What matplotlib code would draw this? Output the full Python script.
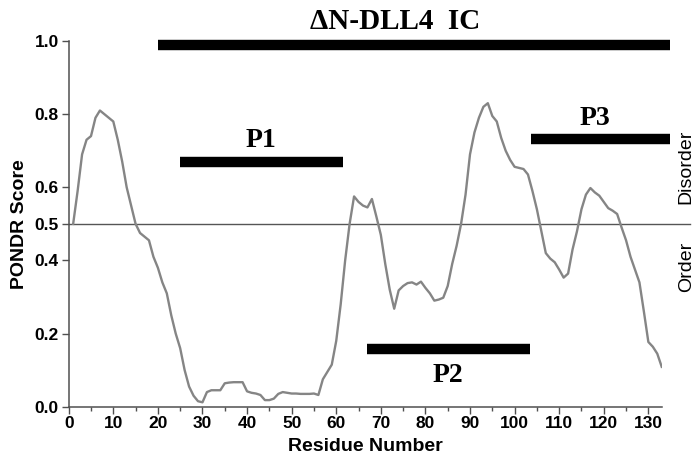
import numpy as np
import matplotlib
matplotlib.use("Agg")
import matplotlib.pyplot as plt

# PONDR disorder score per residue (1..133)
residues = np.arange(1, 134)
pondr = [
    0.50, 0.59, 0.69, 0.73, 0.74, 0.79, 0.81, 0.80, 0.79, 0.78,
    0.73, 0.67, 0.60, 0.55, 0.50, 0.475, 0.465, 0.455, 0.41, 0.38,
    0.34, 0.31, 0.25, 0.20, 0.16, 0.10, 0.055, 0.03, 0.015, 0.012,
    0.040, 0.045, 0.045, 0.045, 0.064, 0.066, 0.067, 0.067, 0.067, 0.042,
    0.038, 0.036, 0.032, 0.018, 0.018, 0.022, 0.035, 0.040, 0.038, 0.036,
    0.036, 0.035, 0.035, 0.035, 0.036, 0.032, 0.075, 0.095, 0.115, 0.18,
    0.28, 0.40, 0.50, 0.575, 0.56, 0.55, 0.545, 0.568, 0.52, 0.47,
    0.39, 0.32, 0.268, 0.318, 0.330, 0.338, 0.340, 0.334, 0.342, 0.325,
    0.31, 0.29, 0.293, 0.298, 0.33, 0.39, 0.44, 0.50, 0.58, 0.69,
    0.75, 0.79, 0.82, 0.83, 0.795, 0.78, 0.735, 0.70, 0.675, 0.656,
    0.653, 0.65, 0.635, 0.59, 0.54, 0.48, 0.42, 0.405, 0.395, 0.375,
    0.353, 0.364, 0.43, 0.48, 0.54, 0.58, 0.598, 0.586, 0.577, 0.56,
    0.543, 0.536, 0.527, 0.49, 0.455, 0.41, 0.375, 0.34, 0.26, 0.177,
    0.164, 0.145, 0.109,
]

# construct spans: name, start, end, bar height, label position
constructs = ["\u0394N-DLL4  IC", "P1", "P2", "P3"]
span_start = [20, 25, 67, 103.7]
span_end = [134.8, 61.6, 103.4, 134.8]
span_level = [0.99, 0.67, 0.157, 0.733]
label_x = [73.3, 43.1, 85.1, 118.0]
label_y = [1.053, 0.728, 0.085, 0.788]
label_size = [21, 20, 20, 20]

yticks = [0.0, 0.2, 0.4, 0.5, 0.6, 0.8, 1.0]

plt.rcParams['font.family'] = ['Liberation Sans', 'DejaVu Sans']

fig = plt.figure(figsize=(6.94, 4.61), dpi=100)
ax = fig.add_axes([0.099, 0.1178, 0.8545, 0.7932])

ax.plot(residues, pondr, color="#858585", lw=1.7, zorder=3)
ax.plot([0, 139.3], [0.5, 0.5], color="#555555", lw=1.0, clip_on=False, zorder=2)

for name, x0, x1, lev, lx, ly, fs in zip(constructs, span_start, span_end, span_level,
                                         label_x, label_y, label_size):
    ax.plot([x0, x1], [lev, lev], color="black", lw=7.5, solid_capstyle="butt",
            clip_on=False, zorder=4)
    ax.text(lx, ly, name, ha="center", va="center", fontsize=fs, fontweight="bold",
            family=["Liberation Serif", "DejaVu Serif"], clip_on=False)

ax.set_xlim(0, 133)
ax.set_ylim(0, 1.0)
ax.set_xticks(np.arange(0, 131, 10))
ax.set_xticks(np.arange(5, 131, 10), minor=True)
ax.set_yticks(yticks)
ax.set_yticklabels(["%.1f" % t for t in yticks])

for side in ["top", "right"]:
    ax.spines[side].set_visible(False)
for side in ["left", "bottom"]:
    ax.spines[side].set_color("#505050")
    ax.spines[side].set_linewidth(1.1)

ax.tick_params(axis="both", which="major", direction="out", length=5, width=1.0,
               color="#505050", labelsize=12.5, pad=2)
ax.tick_params(axis="x", which="minor", direction="out", length=3, width=1.0,
               color="#505050")
for lab in ax.get_xticklabels() + ax.get_yticklabels():
    lab.set_fontweight("bold")

ax.set_xlabel("Residue Number", fontsize=14, fontweight="bold", labelpad=5)
ax.set_ylabel("PONDR Score", fontsize=14, fontweight="bold", labelpad=5)

fig.text(0.9765, 0.638, "Disorder", rotation=90, ha="left", va="center", fontsize=14)
fig.text(0.9765, 0.421, "Order", rotation=90, ha="left", va="center", fontsize=14)

fig.savefig("out.png", dpi=100)
